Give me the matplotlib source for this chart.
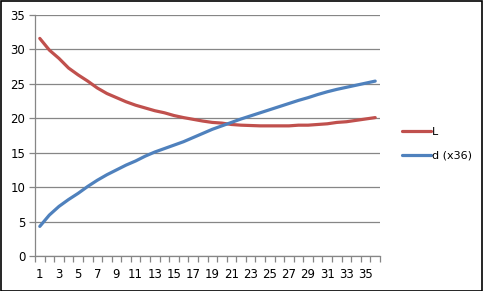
import matplotlib
matplotlib.use("Agg")
import matplotlib.pyplot as plt
from matplotlib.patches import Rectangle
from matplotlib.ticker import FixedLocator, NullFormatter

categories = list(range(1, 37))
L_values = [31.6, 29.9, 28.7, 27.3, 26.3, 25.4, 24.4, 23.6, 23.0, 22.4,
            21.9, 21.5, 21.1, 20.8, 20.4, 20.1, 19.85, 19.6, 19.4, 19.3,
            19.1, 19.0, 18.95, 18.9, 18.9, 18.9, 18.9, 19.0, 19.0, 19.1,
            19.2, 19.4, 19.5, 19.7, 19.9, 20.1]
d_values = [4.3, 5.95, 7.2, 8.2, 9.1, 10.1, 11.0, 11.8, 12.5, 13.2,
            13.8, 14.5, 15.1, 15.6, 16.1, 16.6, 17.2, 17.8, 18.4, 18.9,
            19.4, 19.9, 20.35, 20.8, 21.25, 21.7, 22.15, 22.6, 23.0, 23.45,
            23.85, 24.2, 24.5, 24.8, 25.1, 25.4]
series_names = ["L", "d (x36)"]
x_labels = [str(c) for c in categories[::2]]

W, H = 483, 291
fig = plt.figure(figsize=(W / 100, H / 100), dpi=100)
ax = fig.add_axes([35 / W, 1 - 256 / H, 345 / W, 241 / H])

red = "#C0504D"
blue = "#4F81BD"
ax.plot(categories, L_values, color=red, lw=2.3, label=series_names[0],
        solid_capstyle="round", solid_joinstyle="round", zorder=3)
ax.plot(categories, d_values, color=blue, lw=2.3, label=series_names[1],
        solid_capstyle="round", solid_joinstyle="round", zorder=3)

ax.set_xlim(0.5, 36.5)
ax.set_ylim(0, 35)
ax.set_yticks(range(0, 36, 5))
ax.yaxis.grid(True, color="#868686", lw=0.9)
ax.set_axisbelow(True)

# category boundary tick marks and labels on odd categories
ax.xaxis.set_major_locator(FixedLocator([i + 0.5 for i in range(0, 37)]))
ax.xaxis.set_major_formatter(NullFormatter())
ax.xaxis.set_minor_locator(FixedLocator(categories[::2]))
ax.set_xticklabels(x_labels, minor=True)
ax.tick_params(axis="x", which="major", length=4, width=0.9, color="#868686", direction="out")
ax.tick_params(axis="x", which="minor", length=0, pad=9, labelsize=8.5)
ax.tick_params(axis="y", length=4, width=0.9, color="#868686", labelsize=8.5, pad=3)

for s in ["top", "right"]:
    ax.spines[s].set_visible(False)
for s in ["left", "bottom"]:
    ax.spines[s].set_color("#868686")
    ax.spines[s].set_linewidth(0.9)

fig.legend(loc="center left", bbox_to_anchor=(392 / W, 1 - 144 / H), frameon=False,
           fontsize=8, handlelength=2.6, labelspacing=1.25, handletextpad=0.1)

fig.patches.append(Rectangle((0.5 / W, 0.5 / H), 1 - 1.5 / W, 1 - 1.5 / H,
                             transform=fig.transFigure, fill=False, edgecolor="black", lw=1.2))

fig.savefig("out.png", dpi=100)
